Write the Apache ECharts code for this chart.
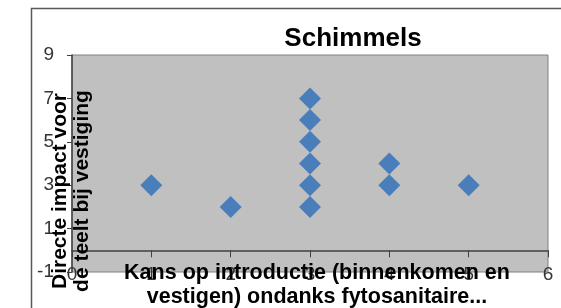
<!DOCTYPE html>
<html>
<head>
<meta charset="utf-8">
<script src="https://cdn.jsdelivr.net/npm/echarts@6/dist/echarts.min.js"></script>
<style>
  html, body { margin: 0; padding: 0; background: #fff; }
  #chart { width: 561px; height: 308px; }
</style>
</head>
<body>
<div id="chart"></div>
<script>
// kans op introductie (x) en directe impact (y), een punt per organisme
const kansIntroductie = [1, 2, 3, 3, 3, 3, 3, 3, 4, 4, 5]
const directeImpact = [3, 2, 2, 3, 4, 5, 6, 7, 3, 4, 3]

const chartTitle = 'Schimmels'
const xTitle = 'Kans op introductie (binnenkomen en\nvestigen) ondanks fytosanitaire...'
const yTitle = 'Directe impact voor\nde teelt bij vestiging'

const points = kansIntroductie.map((x, i) => [x, directeImpact[i]])

const chart = echarts.init(document.getElementById('chart'))

const option = {
  animation: false,
  textStyle: { fontFamily: 'Liberation Sans, Arial, sans-serif' },
  title: {
    text: chartTitle,
    left: 348,
    textAlign: 'center',
    top: 21,
    textStyle: { fontSize: 26, fontWeight: 'bold', color: '#000' }
  },
  grid: {
    left: 72,
    right: 13,
    top: 55,
    bottom: 36,
    show: true,
    backgroundColor: '#c0c0c0',
    borderColor: '#808080',
    borderWidth: 1
  },
  xAxis: {
    type: 'value',
    min: 0,
    max: 6,
    interval: 1,
    axisLine: { onZero: true, lineStyle: { color: '#404040', width: 1.5 } },
    axisTick: { length: 7, lineStyle: { color: '#404040' } },
    axisLabel: { margin: -7, fontSize: 19, color: '#333' },
    splitLine: { show: false }
  },
  yAxis: {
    type: 'value',
    min: -1,
    max: 9,
    interval: 2,
    axisLine: { show: true, onZero: false, lineStyle: { color: '#404040', width: 1.5 } },
    axisTick: { show: true, length: 5, lineStyle: { color: '#404040' } },
    axisLabel: { margin: 18, fontSize: 19, color: '#333' },
    splitLine: { show: false }
  },
  graphic: [
    {
      type: 'rect',
      silent: true,
      z: -10,
      shape: { x: 31.5, y: 8.5, width: 600, height: 400 },
      style: { fill: 'none', stroke: '#595959', lineWidth: 1.5 }
    },
    {
      type: 'text',
      x: 71,
      y: 191,
      rotation: Math.PI / 2,
      z: 100,
      style: {
        text: yTitle,
        font: 'bold 21px Liberation Sans, Arial, sans-serif',
        lineHeight: 22,
        fill: '#000',
        align: 'center',
        verticalAlign: 'middle'
      }
    },
    {
      type: 'text',
      x: 317,
      y: 285,
      z: 100,
      style: {
        text: xTitle,
        font: 'bold 21.5px Liberation Sans, Arial, sans-serif',
        lineHeight: 24,
        fill: '#000',
        align: 'center',
        verticalAlign: 'middle'
      }
    }
  ],
  series: [{
    type: 'scatter',
    data: points,
    symbol: 'diamond',
    symbolSize: 22,
    itemStyle: { color: '#4a7ebb', opacity: 1 }
  }]
}

chart.setOption(option)
</script>
</body>
</html>
